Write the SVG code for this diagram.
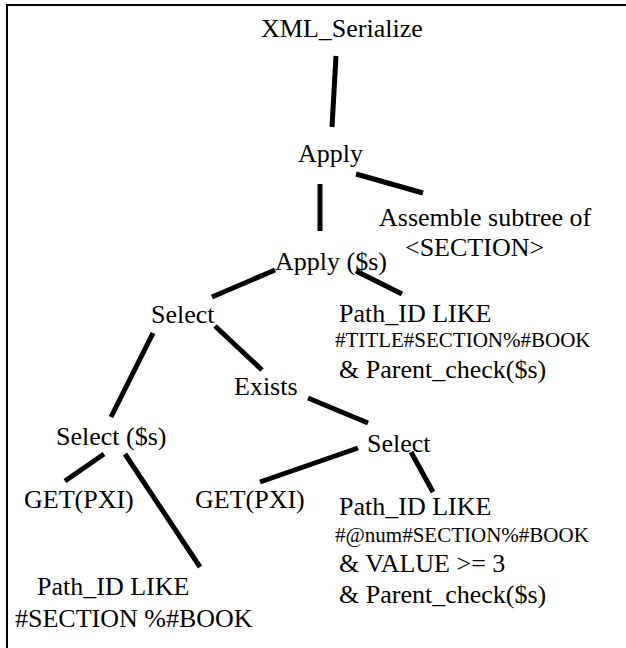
<svg xmlns="http://www.w3.org/2000/svg" width="626" height="648" viewBox="0 0 626 648">
  <style>
    .frame { fill: none; stroke: #000; stroke-width: 2; }
    .edge { stroke: #000; stroke-width: 5; stroke-linecap: butt; fill: none; }
    .lbl { font-family: "Liberation Serif", "Times New Roman", serif; font-size: 26px; fill: #000; }
    .sm { font-size: 21px; }
  </style>
  <rect width="626" height="648" fill="#fff"/>
  <!-- page frame: top and left edges run off the canvas -->
  <rect class="frame" x="7" y="5" width="640" height="660"/>

  <g id="connectors">
    <line class="edge" x1="336" y1="56" x2="332" y2="127"/>
    <line class="edge" x1="320" y1="184" x2="320" y2="231"/>
    <line class="edge" x1="356" y1="174" x2="423" y2="193"/>
    <line class="edge" x1="275" y1="270" x2="212" y2="297"/>
    <line class="edge" x1="356" y1="271" x2="402" y2="294"/>
    <line class="edge" x1="153" y1="333" x2="111" y2="417"/>
    <line class="edge" x1="215" y1="326" x2="262" y2="370"/>
    <line class="edge" x1="308" y1="398" x2="368" y2="423"/>
    <line class="edge" x1="104" y1="454" x2="65" y2="481"/>
    <line class="edge" x1="125" y1="454" x2="200" y2="567"/>
    <line class="edge" x1="358" y1="448" x2="260" y2="482"/>
    <line class="edge" x1="411" y1="452" x2="433" y2="492"/>
  </g>

  <g id="xml-serialize"><text class="lbl" x="261" y="37">XML_Serialize</text></g>
  <g id="apply"><text class="lbl" x="298" y="162">Apply</text></g>
  <g id="assemble">
    <text class="lbl" x="379" y="226">Assemble subtree of</text>
    <text class="lbl" x="405" y="256">&lt;SECTION&gt;</text>
  </g>
  <g id="apply-s"><text class="lbl" x="275" y="270">Apply ($s)</text></g>
  <g id="select-top"><text class="lbl" x="151" y="323">Select</text></g>
  <g id="title-pred">
    <text class="lbl" x="339" y="322">Path_ID LIKE</text>
    <text class="lbl sm" x="335" y="347">#TITLE#SECTION%#BOOK</text>
    <text class="lbl" x="339" y="378">&amp; Parent_check($s)</text>
  </g>
  <g id="exists"><text class="lbl" x="234" y="395">Exists</text></g>
  <g id="select-s"><text class="lbl" x="56" y="445">Select ($s)</text></g>
  <g id="select-right"><text class="lbl" x="367" y="452">Select</text></g>
  <g id="get-left"><text class="lbl" x="24" y="508">GET(PXI)</text></g>
  <g id="get-mid"><text class="lbl" x="195" y="508">GET(PXI)</text></g>
  <g id="num-pred">
    <text class="lbl" x="339" y="515">Path_ID LIKE</text>
    <text class="lbl sm" x="335" y="542">#@num#SECTION%#BOOK</text>
    <text class="lbl" x="339" y="572">&amp; VALUE &gt;= 3</text>
    <text class="lbl" x="339" y="603">&amp; Parent_check($s)</text>
  </g>
  <g id="section-pred">
    <text class="lbl" x="37" y="595">Path_ID LIKE</text>
    <text class="lbl" x="15" y="627">#SECTION %#BOOK</text>
  </g>
</svg>
